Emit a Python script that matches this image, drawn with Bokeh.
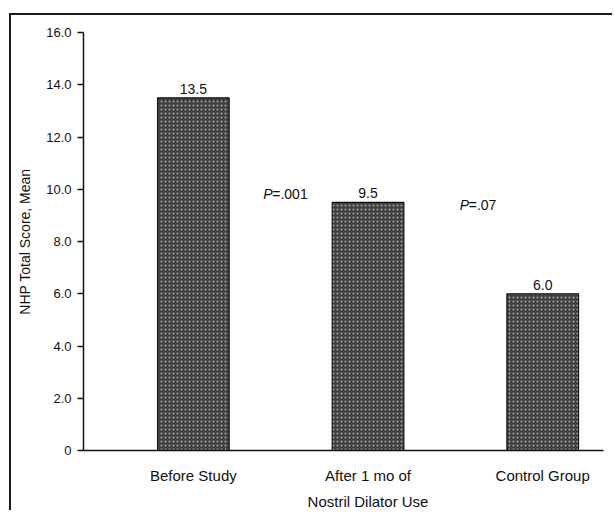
from bokeh.plotting import figure
from bokeh.models import ColumnDataSource, FixedTicker, CustomJSTickFormatter, Range1d
from bokeh.core.properties import value
from bokeh.embed import file_html
from bokeh.resources import INLINE

# ---- data ----
categories = ["Before Study", "After 1 mo of\nNostril Dilator Use", "Control Group"]
positions = [1, 2, 3]
means = [13.5, 9.5, 6.0]
mean_labels = ["13.5", "9.5", "6.0"]
y_ticks = [0, 2, 4, 6, 8, 10, 12, 14, 16]
p_labels = ["=.001", "=.07"]
p_x = [1.40, 2.525]
p_y = [9.83, 9.41]

FONT = "Liberation Sans"

p = figure(width=603, height=497, output_backend="svg", toolbar_location=None,
           x_range=Range1d(0.371, 3.348), y_range=Range1d(0, 16),
           min_border_left=72, min_border_right=11, min_border_top=17, min_border_bottom=59)
p.styles = {"border-top": "2px solid #1a1a1a", "border-left": "2px solid #1a1a1a",
            "border-right": "none", "border-bottom": "none", "overflow": "hidden",
            "margin-top": "13px", "margin-left": "9px"}
p.outline_line_color = None
p.border_fill_color = "white"
p.xgrid.grid_line_color = None
p.ygrid.grid_line_color = None
p.background_fill_color = "white"

src = ColumnDataSource(dict(x=positions, top=means, lab=mean_labels))
p.vbar(x="x", top="top", width=0.41, source=src, fill_color="#404040",
       line_color="#111111", line_width=1.2,
       hatch_pattern="dot", hatch_color="#b0b0b0", hatch_scale=4, hatch_weight=1, hatch_alpha=0.9)

p.text(x="x", y="top", text="lab", source=src, text_align="center", text_baseline="alphabetic",
       y_offset=-9, text_font=value(FONT), text_font_size="14px", text_color="#111111")

psrc = ColumnDataSource(dict(x=p_x, y=p_y, t=p_labels, pp=["P", "P"]))
p.text(x="x", y="y", text="pp", source=psrc, text_align="left", text_baseline="middle",
       text_font=value(FONT), text_font_style="italic", text_font_size="14px", text_color="#111111")
p.text(x="x", y="y", text="t", source=psrc, text_align="left", text_baseline="middle",
       x_offset=9, text_font=value(FONT), text_font_size="14px", text_color="#111111")

# y axis
ya = p.yaxis[0]
ya.ticker = FixedTicker(ticks=y_ticks)
ya.formatter = CustomJSTickFormatter(code="return tick == 0 ? '0' : tick.toFixed(1);")
ya.axis_label = "NHP Total Score, Mean"
ya.axis_label_text_font = FONT
ya.axis_label_text_font_style = "normal"
ya.axis_label_text_font_size = "14px"
ya.axis_label_standoff = 10
ya.major_label_text_font = FONT
ya.major_label_text_font_size = "13px"
ya.major_label_standoff = 6
ya.major_tick_out = 6
ya.major_tick_in = 0
ya.minor_tick_line_color = None
ya.axis_line_width = 1.5
ya.major_tick_line_width = 1.5
ya.axis_line_color = "#111111"
ya.major_tick_line_color = "#111111"
ya.major_label_text_color = "#111111"
ya.axis_label_text_color = "#111111"

# x axis
xa = p.xaxis[0]
xa.ticker = FixedTicker(ticks=positions)
xa.major_label_overrides = {pos: c for pos, c in zip(positions, categories)}
xa.major_label_text_font = FONT
xa.major_label_text_font_size = "15px"
xa.major_label_text_line_height = 1.55
xa.major_label_standoff = 10
xa.major_tick_line_color = None
xa.minor_tick_line_color = None
xa.axis_line_width = 1.5
xa.axis_line_color = "#111111"
xa.major_label_text_color = "#111111"

open("out.html", "w").write(file_html(p, INLINE))
